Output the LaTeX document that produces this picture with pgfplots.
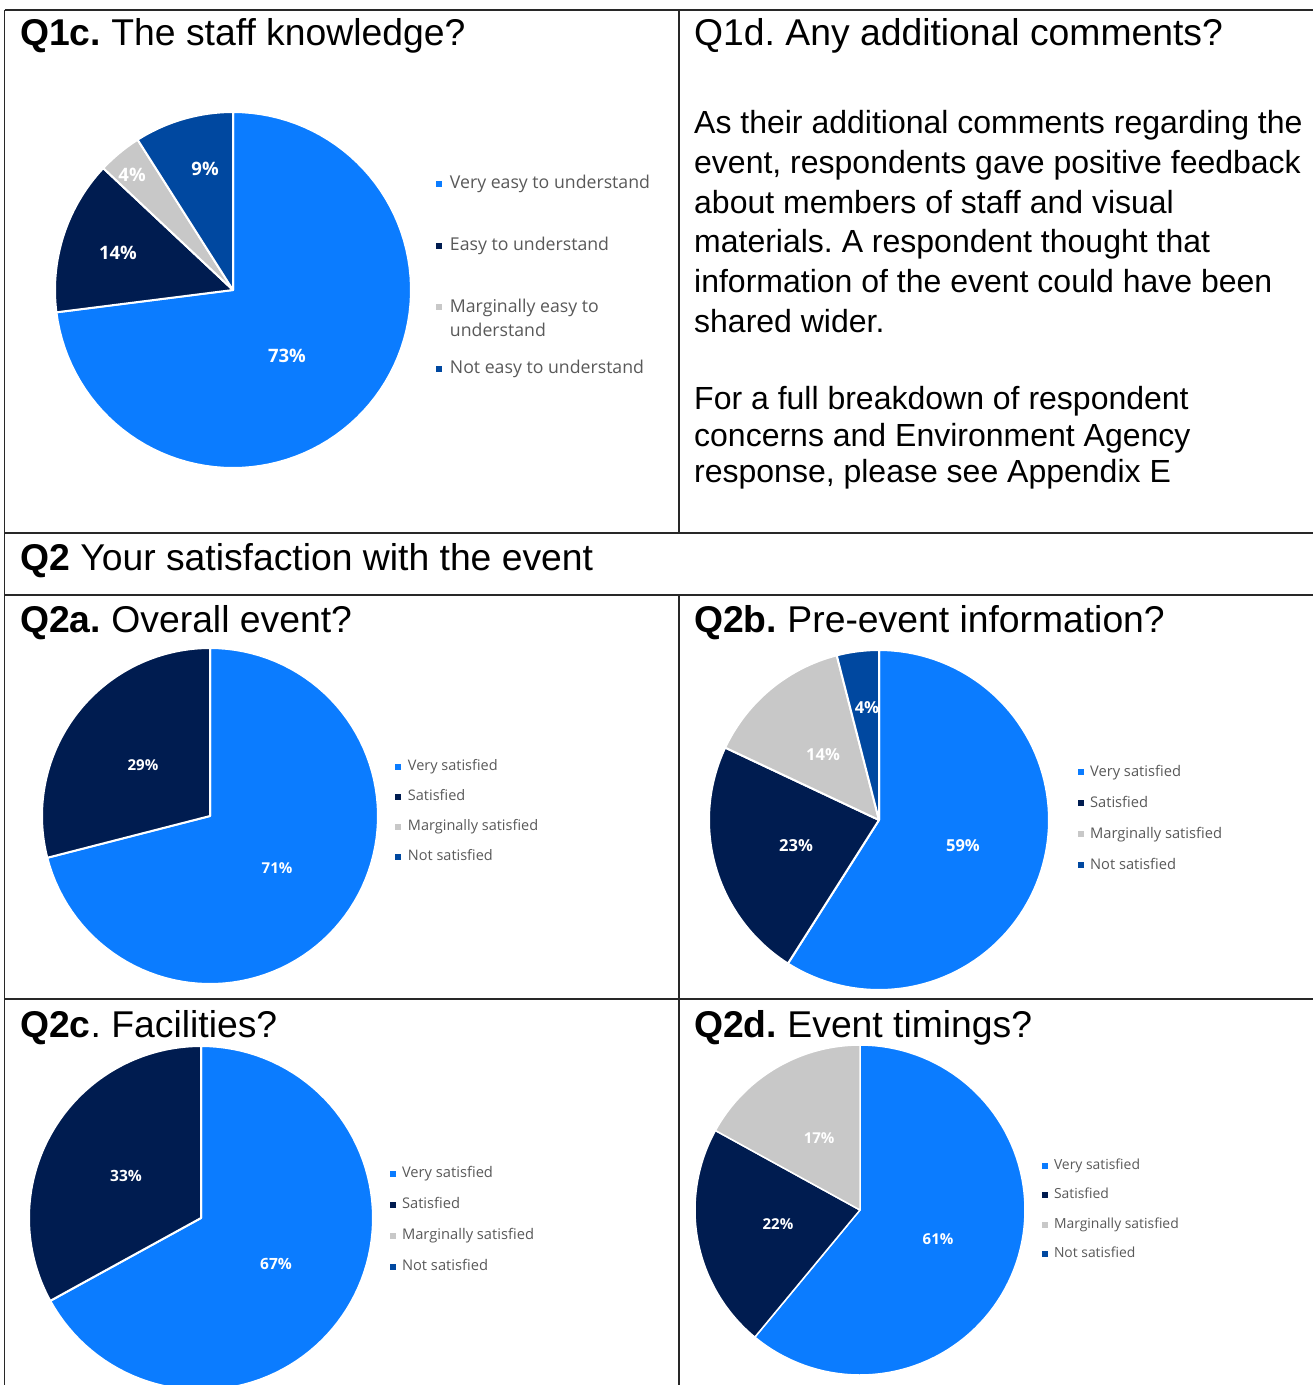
\documentclass[border=0pt]{standalone}
\usepackage{fontspec}
\setmainfont{Liberation Sans}
\newfontfamily\chartfont{Open Sans}
\usepackage{pgfplots}
\pgfplotsset{compat=1.18}
\frenchspacing

\definecolor{vblue}{RGB}{11,124,255}
\definecolor{navy}{RGB}{0,28,80}
\definecolor{lgray}{RGB}{200,200,200}
\definecolor{mblue}{RGB}{0,72,160}
\definecolor{legtext}{RGB}{89,89,89}
\definecolor{rule}{RGB}{40,40,40}

\def\piegap{2pt}
% one slice: cumulative start (%), value (%), colour
\newcommand{\slice}[3]{%
  \addplot[forget plot, fill=#3, draw=white, line width=\piegap, line join=round,
    domain={90-3.6*(#1+#2)}:{90-3.6*(#1)}, samples=90, variable=\t]
    ({cos(\t)}, {sin(\t)}) -- (0,0) -- cycle;}

\pgfplotsset{
  piebase/.style={hide axis, scale only axis, clip=false, anchor=center,
    xmin=-1, xmax=1, ymin=-1, ymax=1,
    legend cell align=left,
    legend image code/.code={\fill[##1, draw=none] (0pt,-3pt) rectangle (6pt,3pt);}},
  % x, y, font size, line skip, text height, text depth, column sep
  pieleg/.style n args={7}{legend style={at={(axis cs:#1,#2)}, anchor=north west,
    draw=none, fill=none, inner sep=0pt, outer sep=0pt, row sep=0pt, column sep=#7,
    font=\chartfont\fontsize{#3}{#4}\selectfont, text=legtext,
    nodes={inner sep=0pt, anchor=west, text height=#5, text depth=#6}}},
}
\newcommand{\heading}[1]{\fontsize{37.3}{44}\selectfont #1}

\begin{document}
\begin{tikzpicture}[x=1pt, y=-1pt]
% table rules
\draw[rule, line width=1.2pt] (4.5,10) -- (1313,10);
\draw[rule, line width=1.2pt] (4.5,533) -- (1313,533);
\draw[rule, line width=1.2pt] (4.5,595) -- (1313,595);
\draw[rule, line width=1.2pt] (4.5,999) -- (1313,999);
\draw[rule, line width=1.2pt] (4.5,10) -- (4.5,1385);
\draw[rule, line width=1.2pt] (679,10) -- (679,533);
\draw[rule, line width=1.2pt] (679,595) -- (679,1385);

% headings
\node[anchor=base west, inner sep=0pt] at (20,45) {\heading{\textbf{Q1c.} The staff knowledge?}};
\node[anchor=base west, inner sep=0pt] at (694,45) {\heading{Q1d. Any additional comments?}};
\node[anchor=base west, inner sep=0pt] at (20,570) {\heading{\textbf{Q2} Your satisfaction with the event}};
\node[anchor=base west, inner sep=0pt] at (20,632) {\heading{\textbf{Q2a.} Overall event?}};
\node[anchor=base west, inner sep=0pt] at (694,632) {\heading{\textbf{Q2b.} Pre-event information?}};
\node[anchor=base west, inner sep=0pt] at (20,1037) {\heading{\textbf{Q2c}. Facilities?}};
\node[anchor=base west, inner sep=0pt] at (694,1037) {\heading{\textbf{Q2d.} Event timings?}};

% comment text
\begin{scope}[every node/.style={anchor=base west, inner sep=0pt, font=\fontsize{32}{38}\selectfont}]
\node at (694,133) {As their additional comments regarding the};
\node at (694,173) {event, respondents gave positive feedback};
\node at (694,213) {about members of staff and visual};
\node at (694,252) {materials. A respondent thought that};
\node at (694,292) {information of the event could have been};
\node at (694,332) {shared wider.};
\node at (694,409) {For a full breakdown of respondent};
\node at (694,446) {concerns and Environment Agency};
\node at (694,482) {response, please see Appendix E};
\end{scope}

% Q1c
\begin{axis}[piebase, at={(233pt,-290pt)}, width=356pt, height=356pt,
    pieleg={1.140}{0.769}{17.7}{24}{35.6pt}{26.1pt}{8pt}]
  \slice{0}{73}{vblue}
  \slice{73}{14}{navy}
  \slice{87}{4}{lgray}
  \slice{91}{9}{mblue}
  \begin{scope}[every node/.style={text=white, font=\chartfont\bfseries\fontsize{18.5}{20}\selectfont}]
    \node at (axis cs:0.303,-0.371) {73\%};
    \node at (axis cs:-0.646,0.208) {14\%};
    \node at (axis cs:-0.567,0.646) {4\%};
    \node at (axis cs:-0.157,0.680) {9\%};
  \end{scope}
  \addlegendimage{fill=vblue}\addlegendentry{Very easy to understand}
  \addlegendimage{fill=navy}\addlegendentry{Easy to understand}
  \addlegendimage{fill=lgray}\addlegendentry{\vtop{\hbox{Marginally easy to}\hbox{understand}}}
  \addlegendimage{fill=mblue}\addlegendentry{Not easy to understand}
\end{axis}

% Q2a
\begin{axis}[piebase, at={(210pt,-816pt)}, width=336pt, height=336pt,
    pieleg={1.101}{0.381}{14.5}{17}{18.9pt}{11.1pt}{7pt}]
  \slice{0}{71}{vblue}
  \slice{71}{29}{navy}
  \begin{scope}[every node/.style={text=white, font=\chartfont\bfseries\fontsize{15}{16}\selectfont}]
    \node at (axis cs:-0.399,0.304) {29\%};
    \node at (axis cs:0.399,-0.310) {71\%};
  \end{scope}
  \addlegendimage{fill=vblue}\addlegendentry{Very satisfied}
  \addlegendimage{fill=navy}\addlegendentry{Satisfied}
  \addlegendimage{fill=lgray}\addlegendentry{Marginally satisfied}
  \addlegendimage{fill=mblue}\addlegendentry{Not satisfied}
\end{axis}

% Q2b
\begin{axis}[piebase, at={(879pt,-820pt)}, width=340pt, height=340pt,
    pieleg={1.171}{0.373}{14.7}{17}{19.4pt}{11.6pt}{6pt}]
  \slice{0}{59}{vblue}
  \slice{59}{23}{navy}
  \slice{82}{14}{lgray}
  \slice{96}{4}{mblue}
  \begin{scope}[every node/.style={text=white, font=\chartfont\bfseries\fontsize{16.5}{18}\selectfont}]
    \node at (axis cs:-0.071,0.659) {4\%};
    \node at (axis cs:-0.329,0.382) {14\%};
    \node at (axis cs:-0.488,-0.153) {23\%};
    \node at (axis cs:0.494,-0.153) {59\%};
  \end{scope}
  \addlegendimage{fill=vblue}\addlegendentry{Very satisfied}
  \addlegendimage{fill=navy}\addlegendentry{Satisfied}
  \addlegendimage{fill=lgray}\addlegendentry{Marginally satisfied}
  \addlegendimage{fill=mblue}\addlegendentry{Not satisfied}
\end{axis}

% Q2c
\begin{axis}[piebase, at={(201pt,-1218pt)}, width=344pt, height=344pt,
    pieleg={1.099}{0.346}{14.7}{17}{19.4pt}{11.6pt}{6pt}]
  \slice{0}{67}{vblue}
  \slice{67}{33}{navy}
  \begin{scope}[every node/.style={text=white, font=\chartfont\bfseries\fontsize{15.5}{17}\selectfont}]
    \node at (axis cs:-0.436,0.244) {33\%};
    \node at (axis cs:0.436,-0.267) {67\%};
  \end{scope}
  \addlegendimage{fill=vblue}\addlegendentry{Very satisfied}
  \addlegendimage{fill=navy}\addlegendentry{Satisfied}
  \addlegendimage{fill=lgray}\addlegendentry{Marginally satisfied}
  \addlegendimage{fill=mblue}\addlegendentry{Not satisfied}
\end{axis}

% Q2d
\def\piegap{1.5pt}
\begin{axis}[piebase, at={(860pt,-1210pt)}, width=330pt, height=330pt,
    pieleg={1.103}{0.356}{13.9}{16}{18.4pt}{10.9pt}{6pt}]
  \slice{0}{61}{vblue}
  \slice{61}{22}{navy}
  \slice{83}{17}{lgray}
  \begin{scope}[every node/.style={text=white, font=\chartfont\bfseries\fontsize{15}{16}\selectfont}]
    \node at (axis cs:-0.248,0.436) {17\%};
    \node at (axis cs:-0.497,-0.085) {22\%};
    \node at (axis cs:0.473,-0.176) {61\%};
  \end{scope}
  \addlegendimage{fill=vblue}\addlegendentry{Very satisfied}
  \addlegendimage{fill=navy}\addlegendentry{Satisfied}
  \addlegendimage{fill=lgray}\addlegendentry{Marginally satisfied}
  \addlegendimage{fill=mblue}\addlegendentry{Not satisfied}
\end{axis}

\pgfresetboundingbox
\useasboundingbox (0,0) rectangle (1313,1385);
\end{tikzpicture}
\end{document}
